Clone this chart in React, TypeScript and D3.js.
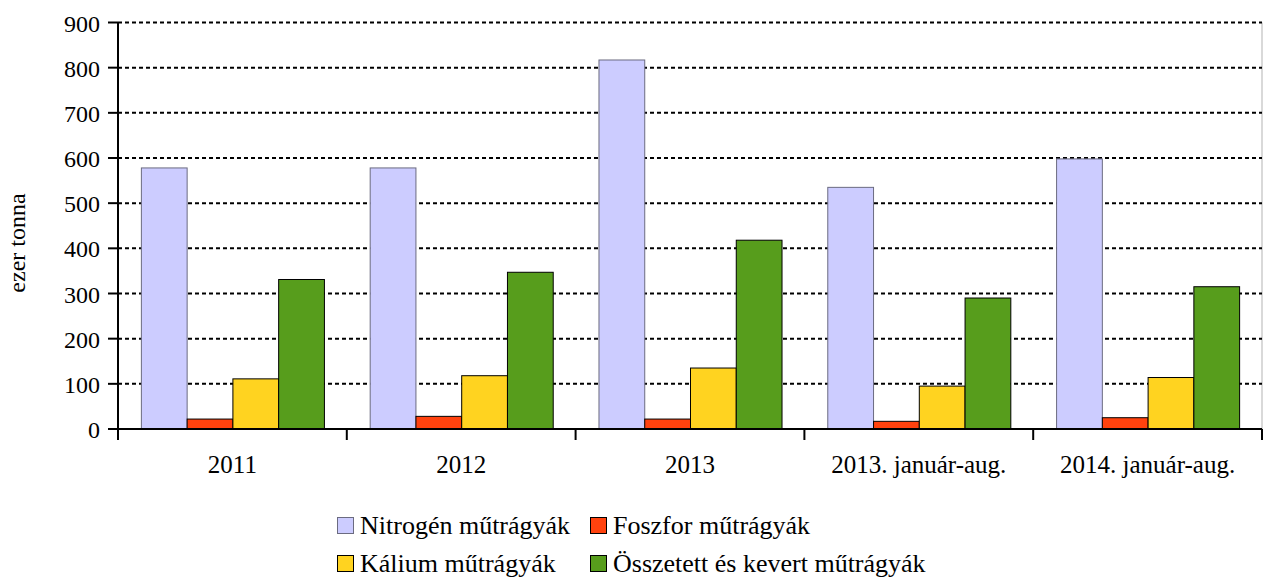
import React, { useEffect, useRef } from 'react';
import * as d3 from 'd3';

const categories = ['2011', '2012', '2013', '2013. január-aug.', '2014. január-aug.'];
const seriesNames = ['Nitrogén műtrágyák', 'Foszfor műtrágyák', 'Kálium műtrágyák', 'Összetett és kevert műtrágyák'];
const nitrogen = [578, 578, 817, 535, 598];
const foszfor = [22, 28, 22, 17, 25];
const kalium = [111, 118, 135, 95, 114];
const osszetett = [331, 347, 418, 290, 315];
const yTicks = [0, 100, 200, 300, 400, 500, 600, 700, 800, 900];

const colors = ['#ccccff', '#ff420e', '#ffd320', '#579d1c'];
const strokes = ['#6b6b80', '#000', '#000', '#000'];

const W = 1263;
const H = 578;
const FONT = "'Liberation Serif', 'Times New Roman', Times, serif";

const App = () => {
  const svgRef = useRef<SVGSVGElement>(null);

  useEffect(() => {
    const svg = d3.select(svgRef.current);
    svg.selectAll('*').remove();

    const left = 118;
    const right = 1262;
    const top = 22.5;
    const bottom = 429;

    const series = [nitrogen, foszfor, kalium, osszetett];

    const x0 = d3.scaleBand().domain(categories).range([left, right]).paddingInner(0).paddingOuter(0);
    const x1 = d3
      .scaleBand()
      .domain(seriesNames)
      .range([0, x0.bandwidth()])
      .paddingInner(0)
      .paddingOuter(0.5);
    const y = d3.scaleLinear().domain([0, 900]).range([bottom, top]);

    // right border
    svg
      .append('line')
      .attr('x1', right)
      .attr('x2', right)
      .attr('y1', top)
      .attr('y2', bottom)
      .attr('stroke', '#b3b3b3')
      .attr('stroke-width', 1);

    // grid
    svg
      .append('g')
      .selectAll('line')
      .data(yTicks.filter((t) => t > 0))
      .enter()
      .append('line')
      .attr('x1', left)
      .attr('x2', right)
      .attr('y1', (d) => y(d))
      .attr('y2', (d) => y(d))
      .attr('stroke', '#000')
      .attr('stroke-width', 2)
      .attr('stroke-dasharray', '4,3');

    // bars
    const groups = svg
      .append('g')
      .selectAll('g')
      .data(categories)
      .enter()
      .append('g')
      .attr('transform', (d) => `translate(${x0(d)},0)`);

    groups
      .selectAll('rect')
      .data((_, ci) => series.map((s, si) => ({ name: seriesNames[si], value: s[ci], si })))
      .enter()
      .append('rect')
      .attr('x', (d) => (x1(d.name) as number) + 0.5)
      .attr('width', x1.bandwidth())
      .attr('y', (d) => y(d.value))
      .attr('height', (d) => bottom - y(d.value))
      .attr('fill', (d) => colors[d.si])
      .attr('stroke', (d) => strokes[d.si])
      .attr('stroke-width', 1);

    // x axis
    svg
      .append('line')
      .attr('x1', left)
      .attr('x2', right)
      .attr('y1', bottom)
      .attr('y2', bottom)
      .attr('stroke', '#000')
      .attr('stroke-width', 2);

    const bounds = [...categories.map((c) => x0(c) as number), right];
    svg
      .append('g')
      .selectAll('line')
      .data(bounds)
      .enter()
      .append('line')
      .attr('x1', (d) => d)
      .attr('x2', (d) => d)
      .attr('y1', bottom)
      .attr('y2', bottom + 11)
      .attr('stroke', '#000')
      .attr('stroke-width', 2);

    svg
      .append('g')
      .selectAll('text')
      .data(categories)
      .enter()
      .append('text')
      .attr('x', (d) => (x0(d) as number) + x0.bandwidth() / 2)
      .attr('y', 473)
      .attr('text-anchor', 'middle')
      .style('font-family', FONT)
      .attr('font-size', 25)
      .text((d) => d);

    // y axis
    svg
      .append('line')
      .attr('x1', left)
      .attr('x2', left)
      .attr('y1', top)
      .attr('y2', bottom + 11)
      .attr('stroke', '#000')
      .attr('stroke-width', 2);

    const yAxis = svg.append('g');
    yAxis
      .selectAll('line')
      .data(yTicks)
      .enter()
      .append('line')
      .attr('x1', left - 10)
      .attr('x2', left)
      .attr('y1', (d) => y(d))
      .attr('y2', (d) => y(d))
      .attr('stroke', '#000')
      .attr('stroke-width', 2);
    yAxis
      .selectAll('text')
      .data(yTicks)
      .enter()
      .append('text')
      .attr('x', left - 18)
      .attr('y', (d) => y(d) + 9)
      .attr('text-anchor', 'end')
      .style('font-family', FONT)
      .attr('font-size', 24)
      .text((d) => d);

    svg
      .append('text')
      .attr('transform', 'translate(25,243) rotate(-90)')
      .attr('text-anchor', 'middle')
      .style('font-family', FONT)
      .attr('font-size', 24)
      .text('ezer tonna');

    // legend
    const legendPos = [
      [337, 534],
      [590, 534],
      [337, 572],
      [590, 572],
    ];
    const legend = svg
      .append('g')
      .selectAll('g')
      .data(seriesNames)
      .enter()
      .append('g')
      .attr('transform', (_, i) => `translate(${legendPos[i][0]},${legendPos[i][1]})`);
    legend
      .append('rect')
      .attr('x', 0.5)
      .attr('y', -16.5)
      .attr('width', 16)
      .attr('height', 16)
      .attr('fill', (_, i) => colors[i])
      .attr('stroke', (_, i) => strokes[i])
      .attr('stroke-width', 1);
    legend
      .append('text')
      .attr('x', 23)
      .attr('y', 0)
      .style('font-family', FONT)
      .attr('font-size', 26)
      .text((d) => d);
  }, []);

  return <svg ref={svgRef} width={W} height={H} style={{ position: 'absolute', left: 0, top: 0 }}></svg>;
};

export default App;
